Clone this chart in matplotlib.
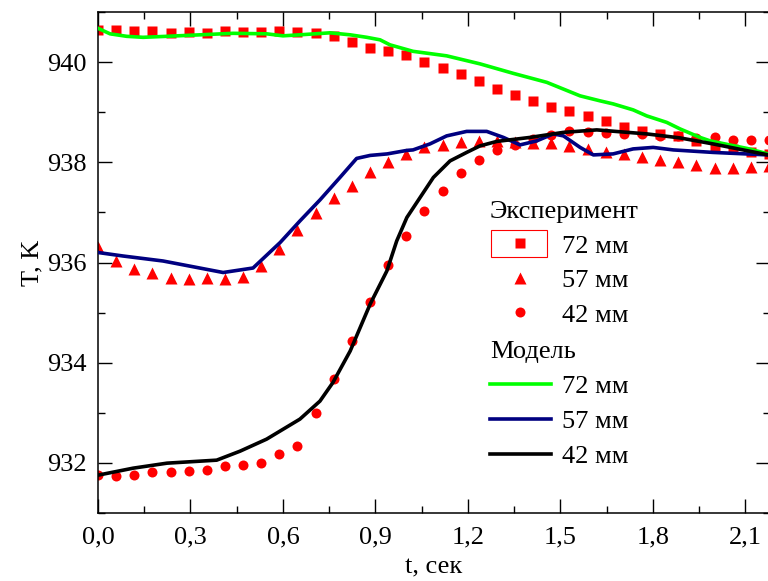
import numpy as np
import matplotlib
matplotlib.use("Agg")
import matplotlib.pyplot as plt
from matplotlib.patches import Rectangle
from matplotlib.ticker import MultipleLocator, FuncFormatter

plt.rcParams['font.family'] = ['Liberation Serif', 'DejaVu Serif']
FS = 19

# Experiment (t step ~ 1/17 s)
t_exp = np.arange(38) / 17.0
exp72 = [940.65, 940.65, 940.63, 940.62, 940.59, 940.60, 940.59, 940.62, 940.61, 940.61,
         940.63, 940.61, 940.59, 940.53, 940.41, 940.29, 940.23, 940.15, 940.01, 939.89,
         939.77, 939.63, 939.47, 939.34, 939.23, 939.10, 939.02, 938.92, 938.82, 938.70,
         938.62, 938.57, 938.52, 938.43, 938.33, 938.27, 938.20, 938.17]
exp57 = [936.30, 936.03, 935.88, 935.80, 935.70, 935.68, 935.69, 935.68, 935.71, 935.93,
         936.27, 936.65, 936.99, 937.28, 937.52, 937.80, 938.00, 938.17, 938.30, 938.35,
         938.40, 938.42, 938.43, 938.40, 938.38, 938.38, 938.32, 938.27, 938.21, 938.17,
         938.11, 938.05, 938.00, 937.95, 937.89, 937.88, 937.90, 937.93]
exp42 = [931.75, 931.73, 931.76, 931.81, 931.81, 931.83, 931.86, 931.93, 931.95, 931.99,
         932.18, 932.33, 932.99, 933.68, 934.43, 935.22, 935.95, 936.52, 937.03, 937.43,
         937.79, 938.05, 938.25, 938.35, 938.47, 938.55, 938.63, 938.61, 938.58, 938.57,
         938.57, 938.53, 938.53, 938.49, 938.50, 938.45, 938.45, 938.45]

# Model
t_m72 = [0, 0.039, 0.093, 0.146, 0.223, 0.331, 0.438, 0.547, 0.600, 0.655, 0.753, 0.818,
         0.872, 0.915, 0.947, 1.022, 1.131, 1.239, 1.347, 1.456, 1.564, 1.629, 1.671,
         1.736, 1.780, 1.845, 1.888, 1.953, 1.986, 2.105, 2.174]
m72 = [940.68, 940.57, 940.52, 940.50, 940.52, 940.55, 940.58, 940.57, 940.53, 940.55,
       940.59, 940.55, 940.50, 940.45, 940.35, 940.22, 940.13, 939.97, 939.78, 939.60,
       939.33, 939.23, 939.17, 939.05, 938.93, 938.80, 938.67, 938.50, 938.43, 938.28, 938.17]
t_m57 = [0, 0.081, 0.211, 0.406, 0.503, 0.591, 0.655, 0.720, 0.785, 0.839, 0.883, 0.938,
         1.002, 1.022, 1.077, 1.131, 1.196, 1.261, 1.315, 1.369, 1.423, 1.477, 1.510,
         1.564, 1.607, 1.671, 1.736, 1.801, 1.866, 1.995, 2.174]
m57 = [936.20, 936.13, 936.03, 935.80, 935.89, 936.40, 936.83, 937.25, 937.70, 938.08,
       938.14, 938.17, 938.24, 938.25, 938.37, 938.53, 938.62, 938.62, 938.50, 938.35,
       938.43, 938.57, 938.53, 938.30, 938.15, 938.17, 938.27, 938.30, 938.25, 938.20, 938.15]
t_m42 = [0, 0.114, 0.224, 0.385, 0.461, 0.547, 0.655, 0.720, 0.762, 0.818, 0.883, 0.937,
         0.969, 1.002, 1.045, 1.088, 1.142, 1.196, 1.239, 1.294, 1.402, 1.509, 1.618,
         1.780, 1.888, 1.995, 2.174]
m42 = [931.75, 931.89, 931.99, 932.05, 932.23, 932.47, 932.87, 933.23, 933.60, 934.23,
       935.17, 935.83, 936.43, 936.90, 937.30, 937.70, 938.03, 938.20, 938.33, 938.42,
       938.50, 938.60, 938.65, 938.57, 938.49, 938.37, 938.15]

labels = ['72 мм', '57 мм', '42 мм']
RED = '#ff0000'
GREEN = '#00ff00'
NAVY = '#000080'

fig = plt.figure(figsize=(7.68, 5.81), dpi=100)
ax = fig.add_axes([98/768, 68.3/581, 672/768, 500.4/581])

ms = 7.2
h1, = ax.plot(t_exp, exp72, 's', color=RED, ms=ms, mec='none', zorder=2)
h2, = ax.plot(t_exp, exp57, '^', color=RED, ms=8.4, mec='none', zorder=2)
h3, = ax.plot(t_exp, exp42, 'o', color=RED, ms=ms, mec='none', zorder=2)
lw = 2.6
l1, = ax.plot(t_m72, m72, '-', color=GREEN, lw=lw, zorder=3)
l2, = ax.plot(t_m57, m57, '-', color=NAVY, lw=lw, zorder=3)
l3, = ax.plot(t_m42, m42, '-', color='black', lw=lw, zorder=3)

ax.set_xlim(0, 2.18)
ax.set_ylim(931, 941)
ax.xaxis.set_major_locator(MultipleLocator(0.3))
ax.xaxis.set_minor_locator(MultipleLocator(0.15))
ax.yaxis.set_major_locator(MultipleLocator(2))
ax.yaxis.set_minor_locator(MultipleLocator(1))
ax.xaxis.set_major_formatter(FuncFormatter(lambda v, p: f"{v:.1f}".replace('.', ',')))
ax.yaxis.set_major_formatter(FuncFormatter(lambda v, p: f"{v:.0f}"))
ax.tick_params(which='both', direction='in', top=True, right=True, width=1.0,
               labelsize=FS, colors='black')
ax.tick_params(which='major', length=10)
ax.tick_params(which='minor', length=5)
ax.tick_params(axis='x', pad=10)
ax.tick_params(axis='y', pad=8)
for s in ax.spines.values():
    s.set_linewidth(1.1)

ax.set_xlabel('t, сек', fontsize=FS, labelpad=6)
ax.set_ylabel('T, K', fontsize=FS, labelpad=3)

common = dict(title_fontsize=FS, fontsize=FS, frameon=False, loc='upper left',
              alignment='left', bbox_transform=fig.transFigure, borderaxespad=0,
              borderpad=0, handlelength=2.3, handletextpad=0.42)
leg1 = ax.legend([h1, h2, h3], labels, title='Эксперимент',
                 bbox_to_anchor=(490/768, 1 - 201/581), labelspacing=0.42,
                 numpoints=1, **common)
ax.add_artist(leg1)
leg2 = ax.legend([l1, l2, l3], labels, title='Модель',
                 bbox_to_anchor=(490/768, 1 - 341/581), labelspacing=0.44, **common)

fig.patches.append(Rectangle((491/768, (581-257)/581), 56/768, 27/581,
                             transform=fig.transFigure, fill=False,
                             edgecolor=RED, lw=0.8, figure=fig))

fig.savefig('out.png', dpi=100)
